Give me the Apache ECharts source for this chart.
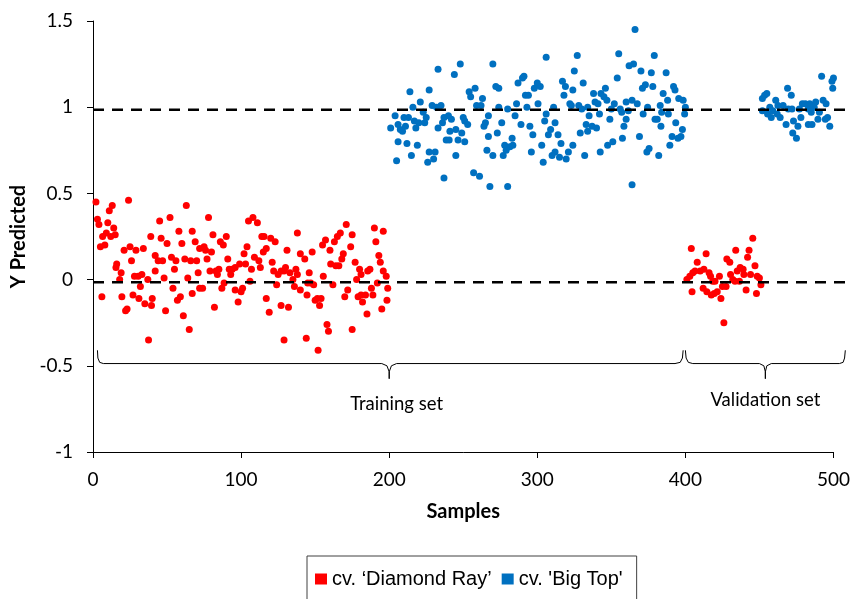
<!DOCTYPE html>
<html>
<head>
<meta charset="utf-8">
<script src="https://cdn.jsdelivr.net/npm/echarts@6/dist/echarts.min.js"></script>
<style>html,body{margin:0;padding:0;background:#fff}#c{width:853px;height:599px}</style>
</head>
<body>
<div id="c"></div>
<script>
// ---- Data (sample index, Y predicted) ----
const redTraining = [
[2,0.45],[13,0.43],[24,0.46],[11,0.40],[63,0.43],[3,0.35],[4,0.32],[10,0.33],[14,0.30],[9,0.27],[15,0.26],[12,0.25],[6.5,0.25],[45,0.34],[52,0.36],[39,0.25],[58,0.28],[67,0.28],[46,0.24],[50,0.21],[60,0.21],[69,0.22],[5,0.19],[8,0.20],[21,0.17],[25,0.19],[29,0.17],[34,0.18],[42,0.14],[26,0.11],[44,0.11],[47,0.11],[53,0.13],[56,0.11],[62,0.12],[66,0.11],[70,0.11],[16,0.09],[15.5,0.07],[19,0.04],[42,0.05],[55,0.06],[18,0.00],[28,0.02],[30.5,0.02],[33,0.03],[37,0.00],[48,0.01],[64,0.01],[32,-0.04],[6,-0.10],[19.5,-0.10],[27,-0.09],[31,-0.11],[35,-0.14],[40,-0.11],[39.5,-0.15],[54,-0.05],[59,-0.10],[57,-0.12],[67,-0.08],[23,-0.17],[22,-0.18],[49,-0.18],[61,-0.21],[65,-0.29],[37.5,-0.35],
[78,0.36],[81,0.26],[90,0.25],[86,0.22],[88,0.20],[72,0.18],[75,0.19],[76,0.17],[80,0.16],[91,0.12],[77,0.12],[71,0.04],[79,0.05],[83,0.05],[85,0.06],[84,0.03],[92,0.06],[94,0.06],[96,0.07],[99,0.09],[103,0.09],[102,0.15],[104,0.19],[93,0.03],[107,0.06],[113,0.07],[109,0.13],[112,0.11],[115,0.16],[117,0.18],[121,0.10],[122,0.05],[125,0.03],[127,0.05],[129,0.05],[130,0.07],[133,0.04],[137,0.06],[138,0.03],[140,0.15],[131,0.17],[138,0.27],[105,0.34],[108,0.36],[111,0.33],[114,0.25],[115.5,0.25],[120,0.24],[123,0.22],[72,-0.05],[74,-0.05],[87,-0.05],[88.5,-0.02],[96,-0.06],[100,-0.07],[101,-0.05],[106,-0.01],[124,-0.03],[135,0.00],[136,-0.04],[140,-0.06],[117,-0.11],[119,-0.19],[127,-0.15],[132,-0.16],[82,-0.16],[98,-0.13],[129,-0.35],
[171,0.32],[190,0.30],[196,0.28],[167,0.27],[175,0.26],[157,0.23],[163,0.22],[155,0.20],[165,0.25],[160,0.17],[174,0.19],[143,0.12],[148,0.16],[169,0.15],[168,0.12],[160.5,0.09],[164,0.08],[166,0.08],[177,0.10],[193,0.14],[194,0.10],[191,0.22],[180,0.06],[181,0.03],[187,0.06],[185.5,0.05],[196,0.05],[198,0.02],[146,0.04],[155.5,0.02],[147,-0.02],[149,-0.03],[145,-0.02],[162,-0.03],[178,0.00],[192,-0.02],[199,-0.05],[188,-0.05],[172,-0.06],[144.5,-0.09],[150,-0.12],[151.5,-0.11],[154,-0.11],[153,-0.15],[170,-0.10],[179,-0.10],[181,-0.09],[184,-0.09],[182,-0.13],[189,-0.09],[185,-0.20],[195,-0.17],[198.5,-0.12],[158,-0.26],[159,-0.30],[175,-0.29],[144,-0.34],[152,-0.41]
];
const redValidation = [
[404,0.18],[414,0.15],[445.5,0.24],[434,0.17],[443,0.17],[428,0.12],[430,0.10],[442,0.13],[408,0.10],[447,0.08],[406.5,0.05],[405,0.04],[410,0.05],[412.5,0.06],[403,0.02],[401,0.00],[416,0.04],[417,0.02],[423,0.02],[418.5,-0.01],[420,-0.01],[437,0.07],[439,0.06],[435,0.05],[430.5,0.03],[432,0.00],[433.5,-0.01],[436.5,-0.01],[439.5,0.03],[444,0.03],[448.5,0.02],[450,0.01],[427.5,-0.04],[425,-0.04],[412,-0.05],[414.5,-0.07],[404.5,-0.07],[419.5,-0.08],[421.5,-0.07],[417.5,-0.09],[424,-0.11],[441,-0.06],[448,-0.08],[451,-0.03],[426,-0.25]
];
const blueTraining = [
[248,1.25],[233,1.22],[244,1.19],[214,1.09],[227,1.10],[254,1.09],[258,1.11],[255,1.06],[263,1.05],[221,1.03],[216,1.00],[229,1.01],[235,1.01],[232,1.00],[259,1.01],[262,1.01],[204,0.95],[210,0.94],[213,0.94],[223,0.97],[225,0.94],[240,0.95],[237,0.94],[250,0.94],[251,0.92],[267,0.95],[201,0.88],[206,0.90],[207.5,0.87],[209,0.86],[211,0.89],[217,0.92],[220,0.91],[224,0.91],[218,0.88],[233,0.88],[236,0.91],[242,0.93],[253,0.90],[264,0.89],[265,0.91],[241,0.86],[245,0.87],[249,0.85],[238.5,0.81],[240.5,0.81],[246.5,0.81],[251,0.80],[267,0.83],[206,0.80],[212,0.79],[219,0.78],[227,0.74],[231,0.74],[215,0.72],[230,0.70],[226,0.68],[205,0.69],[245,0.72],[266,0.75],[237,0.59],[257,0.62],[261,0.60],[268,0.54],
[306,1.29],[327,1.30],[270,1.25],[325,1.21],[331,1.14],[272,1.12],[274,1.11],[287,1.14],[290,1.17],[291,1.18],[300,1.14],[302,1.12],[298,1.11],[317,1.15],[319,1.12],[324,1.10],[318,1.07],[292,1.07],[294,1.07],[286,1.02],[274,1.00],[280,0.99],[293,1.00],[300.5,1.02],[311,1.00],[322,1.02],[323,1.01],[328,1.01],[330,0.99],[334,1.00],[285,0.95],[306,0.96],[276,0.91],[289,0.90],[295,0.89],[305,0.92],[312,0.91],[333,0.90],[273,0.85],[297,0.84],[307.5,0.84],[309,0.87],[314,0.84],[329,0.85],[334,0.86],[283,0.82],[278,0.78],[281.5,0.77],[283.5,0.78],[279,0.75],[303,0.78],[316,0.79],[324,0.78],[270,0.72],[277,0.72],[296,0.74],[310,0.72],[312,0.74],[315,0.71],[319.5,0.70],[321,0.74],[332,0.72],[304,0.68],[280,0.54],
[366,1.45],[355,1.31],[362,1.24],[365,1.25],[379,1.30],[370,1.21],[377,1.20],[387,1.20],[354,1.17],[371,1.11],[373,1.13],[378,1.12],[392,1.12],[393,1.10],[338,1.08],[343,1.08],[345,1.06],[346,1.11],[385,1.08],[347,1.04],[339,1.03],[341,1.02],[352,1.02],[360,1.03],[364,1.04],[367.5,1.02],[388,1.04],[395.5,1.05],[398.5,1.04],[400,1.00],[383,1.01],[374.5,1.00],[350,0.99],[356,0.99],[357,0.97],[361.5,0.98],[371.5,0.96],[384,0.97],[388.5,0.96],[399.5,0.96],[335,0.95],[342,0.96],[349,0.93],[360,0.93],[379.5,0.93],[381,0.93],[393.5,0.91],[337,0.89],[340,0.88],[358.5,0.89],[383.5,0.89],[398,0.87],[357.5,0.82],[369,0.83],[391,0.83],[395,0.82],[397,0.83],[389.5,0.78],[347.5,0.78],[351,0.80],[342.5,0.74],[374,0.74],[375.5,0.76],[382,0.72],[364,0.55]
];
const blueValidation = [
[492,1.18],[500,1.17],[499,1.15],[499.5,1.11],[469,1.11],[471.5,1.07],[455,1.08],[453.5,1.07],[452,1.05],[461,1.04],[466,1.01],[462.5,1.01],[457,1.00],[452,0.98],[455.5,0.96],[459,0.98],[462,0.96],[464,0.94],[458,0.94],[469.5,0.99],[472,0.99],[479,1.02],[481,1.02],[484,1.02],[488,1.03],[493,1.04],[495,1.02],[483,0.99],[477,0.99],[478,0.94],[473,0.92],[468,0.90],[476,0.89],[483,0.90],[485.5,0.90],[489.5,0.93],[496,0.94],[494.5,0.93],[497.5,0.89],[490.5,0.97],[472.5,0.85],[475,0.82],[485,0.97],[487,1.00]
];
// reference levels (dashed lines)
const refLevels = [0.985, -0.015];
const refSpan = [0, 509];
// bracket outlines (data units)
const trainingBracket = [[3,-0.41],[3.3,-0.455],[4.5,-0.48],[7,-0.487],[195,-0.487],[198.5,-0.5],[200,-0.535],[200,-0.575],[200,-0.535],[201.5,-0.5],[205,-0.487],[393,-0.487],[396.5,-0.48],[398,-0.455],[398.5,-0.41]];
const validationBracket = [[400,-0.41],[400.5,-0.455],[402,-0.48],[405,-0.487],[450,-0.487],[453,-0.5],[454,-0.535],[454,-0.575],[454,-0.535],[455,-0.5],[458,-0.487],[504,-0.487],[506.5,-0.48],[507.5,-0.455],[508,-0.41]];
const setLabelPos = [[205,-0.72],[454,-0.70]];
const setLabelText = ['Training set', 'Validation set'];
const xTicks = {min:0, max:500, interval:100};
const yTicks = {min:-1, max:1.5, interval:0.5};

const RED = '#FF0000', BLUE = '#0070C0';
const FONT = 'Lato, "Open Sans", sans-serif';

// polyline drawn through the axes' scales (not clipped to the grid)
function polySeries(name, pts, style, z) {
  return {
    name, type: 'custom', data: pts, clip: false, silent: true, z,
    renderItem: (params, api) => {
      if (params.dataIndex !== 0) return null;
      return {type: 'polyline', shape: {points: pts.map(p => api.coord(p))},
              style: Object.assign({fill: null}, style)};
    }
  };
}
const dashSeries = refLevels.map((v,i) =>
  polySeries('ref' + i, refSpan.map(x => [x, v]), {stroke: '#000', lineWidth: 2.5, lineDash: [11, 8]}, 5));
const bracketSeries = [trainingBracket, validationBracket].map((d,i) =>
  polySeries('bracket' + i, d, {stroke: '#000', lineWidth: 1}, 4));

const chart = echarts.init(document.getElementById('c'), null, {renderer:'canvas'});
chart.setOption({
  animation: false,
  backgroundColor: '#fff',
  grid: {left: 93, right: 18, top: 21, bottom: 147, containLabel: false},
  xAxis: {
    type: 'value', min: xTicks.min, max: xTicks.max, interval: xTicks.interval,
    name: 'Samples', nameLocation: 'middle', nameGap: 50,
    nameTextStyle: {fontFamily: FONT, fontSize: 20, fontWeight: 'bold', color: '#000'},
    axisLine: {show: true, onZero: false, lineStyle: {color: '#000', width: 1}},
    axisTick: {show: true, length: 6, lineStyle: {color: '#000'}},
    axisLabel: {fontFamily: FONT, fontSize: 19, color: '#000', margin: 18},
    splitLine: {show: false}
  },
  yAxis: {
    type: 'value', min: yTicks.min, max: yTicks.max, interval: yTicks.interval,
    name: 'Y Predicted', nameLocation: 'middle', nameGap: 59, nameRotate: 90,
    nameTextStyle: {fontFamily: FONT, fontSize: 20, fontWeight: 'bold', color: '#000'},
    axisLine: {show: true, onZero: false, lineStyle: {color: '#000', width: 1}},
    axisTick: {show: true, length: 6, lineStyle: {color: '#000'}},
    axisLabel: {fontFamily: FONT, fontSize: 19, color: '#000', margin: 20},
    splitLine: {show: false}
  },
  legend: {
    data: [{name: "cv. ‘Diamond Ray’", icon: 'rect'}, {name: "cv. 'Big Top'", icon: 'rect'}],
    left: 307, top: 556, orient: 'horizontal',
    padding: [13, 14, 30, 8], itemGap: 10, itemWidth: 12, itemHeight: 11,
    borderColor: '#404040', borderWidth: 1,
    textStyle: {fontFamily: '"Liberation Sans", Arial, sans-serif', fontSize: 20, color: '#000'}
  },
  series: [
    {name: "cv. ‘Diamond Ray’", type: 'scatter', symbol: 'circle', symbolSize: 7, data: redTraining.concat(redValidation),
     itemStyle: {color: RED, opacity: 1}, z: 3},
    {name: "cv. 'Big Top'", type: 'scatter', symbol: 'circle', symbolSize: 7, data: blueTraining.concat(blueValidation),
     itemStyle: {color: BLUE, opacity: 1}, z: 3},
    ...dashSeries,
    ...bracketSeries,
    {name: 'setLabels', type: 'custom', data: setLabelPos, clip: false, silent: true, z: 6,
     renderItem: (params, api) => {
       const c = api.coord([api.value(0), api.value(1)]);
       return {type: 'text', x: c[0], y: c[1],
               style: {text: setLabelText[params.dataIndex], fill: '#000',
                       font: '18.5px ' + FONT, align: 'center', verticalAlign: 'middle'}};
     }}
  ]
});
</script>
</body>
</html>
